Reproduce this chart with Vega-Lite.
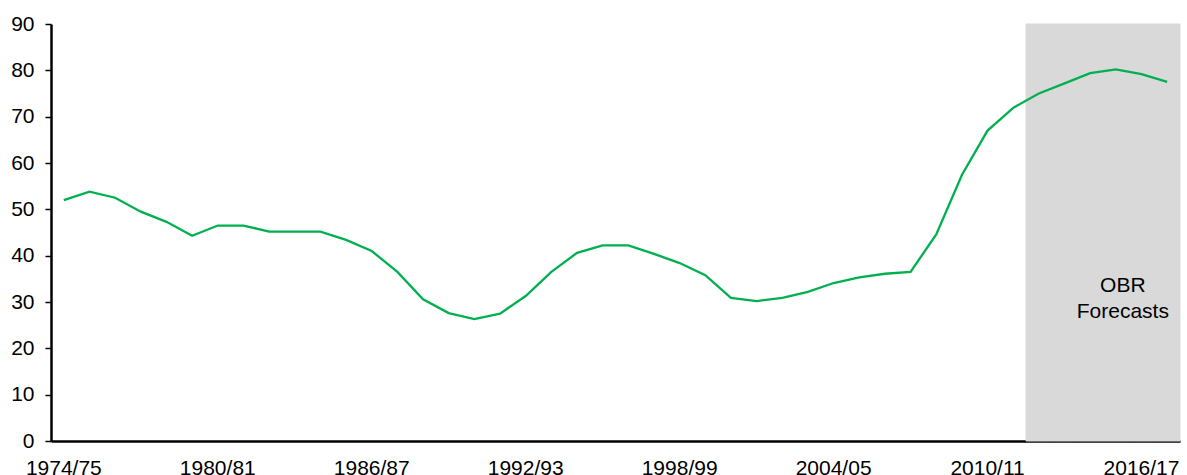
{
  "$schema": "https://vega.github.io/schema/vega-lite/v6.json",
  "width": 1129,
  "height": 417,
  "autosize": {"type": "none"},
  "padding": {"left": 51, "top": 24, "right": 7, "bottom": 34},
  "config": {
    "view": {"stroke": null},
    "font": "Liberation Sans",
    "axis": {"labelFont": "Liberation Sans", "labelColor": "#000000", "grid": false, "title": null, "domainColor": "#000000", "tickColor": "#000000"}
  },
  "datasets": {
    "series": [
      {"year": "1974/75", "value": 52.0},
      {"year": "1975/76", "value": 53.8},
      {"year": "1976/77", "value": 52.5},
      {"year": "1977/78", "value": 49.5},
      {"year": "1978/79", "value": 47.3},
      {"year": "1979/80", "value": 44.3},
      {"year": "1980/81", "value": 46.5},
      {"year": "1981/82", "value": 46.5},
      {"year": "1982/83", "value": 45.2},
      {"year": "1983/84", "value": 45.2},
      {"year": "1984/85", "value": 45.2},
      {"year": "1985/86", "value": 43.4},
      {"year": "1986/87", "value": 41.0},
      {"year": "1987/88", "value": 36.5},
      {"year": "1988/89", "value": 30.6},
      {"year": "1989/90", "value": 27.6},
      {"year": "1990/91", "value": 26.3},
      {"year": "1991/92", "value": 27.5},
      {"year": "1992/93", "value": 31.3},
      {"year": "1993/94", "value": 36.5},
      {"year": "1994/95", "value": 40.6},
      {"year": "1995/96", "value": 42.2},
      {"year": "1996/97", "value": 42.2},
      {"year": "1997/98", "value": 40.4},
      {"year": "1998/99", "value": 38.4},
      {"year": "1999/00", "value": 35.8},
      {"year": "2000/01", "value": 30.9},
      {"year": "2001/02", "value": 30.2},
      {"year": "2002/03", "value": 30.9},
      {"year": "2003/04", "value": 32.2},
      {"year": "2004/05", "value": 34.1},
      {"year": "2005/06", "value": 35.3},
      {"year": "2006/07", "value": 36.1},
      {"year": "2007/08", "value": 36.5},
      {"year": "2008/09", "value": 44.6},
      {"year": "2009/10", "value": 57.4},
      {"year": "2010/11", "value": 67.0},
      {"year": "2011/12", "value": 71.9},
      {"year": "2012/13", "value": 75.0},
      {"year": "2013/14", "value": 77.2},
      {"year": "2014/15", "value": 79.4},
      {"year": "2015/16", "value": 80.2},
      {"year": "2016/17", "value": 79.2},
      {"year": "2017/18", "value": 77.5}
    ],
    "label": [{"text": "OBR"}]
  },
  "encoding": {
    "x": {
      "field": "year",
      "type": "ordinal",
      "sort": null,
      "scale": {
        "type": "band", "paddingInner": 0, "paddingOuter": 0,
        "domain": ["1974/75","1975/76","1976/77","1977/78","1978/79","1979/80","1980/81","1981/82","1982/83","1983/84","1984/85","1985/86","1986/87","1987/88","1988/89","1989/90","1990/91","1991/92","1992/93","1993/94","1994/95","1995/96","1996/97","1997/98","1998/99","1999/00","2000/01","2001/02","2002/03","2003/04","2004/05","2005/06","2006/07","2007/08","2008/09","2009/10","2010/11","2011/12","2012/13","2013/14","2014/15","2015/16","2016/17","2017/18"]
      },
      "axis": {
        "values": ["1974/75", "1980/81", "1986/87", "1992/93", "1998/99", "2004/05", "2010/11", "2016/17"],
        "labelAngle": 0,
        "ticks": false,
        "labelPadding": 16,
        "labelFontSize": 21,
        "domainWidth": 2.5
      }
    }
  },
  "layer": [
    {
      "data": {"name": "series"},
      "transform": [{"filter": {"field": "year", "oneOf": ["2012/13", "2013/14", "2014/15", "2015/16", "2016/17", "2017/18"]}}],
      "mark": {"type": "bar", "color": "#d9d9d9", "stroke": "#d9d9d9", "strokeWidth": 1},
      "encoding": {
        "y": {"datum": 90, "type": "quantitative", "scale": {"domain": [0, 90], "nice": false}}
      }
    },
    {
      "data": {"name": "series"},
      "mark": {"type": "line", "color": "#00b050", "strokeWidth": 2.3},
      "encoding": {
        "y": {
          "field": "value",
          "type": "quantitative",
          "scale": {"domain": [0, 90], "nice": false},
          "axis": {
            "values": [0, 10, 20, 30, 40, 50, 60, 70, 80, 90],
            "tickSize": 6,
            "tickWidth": 1.5,
            "labelPadding": 11,
            "labelFontSize": 21,
            "domainWidth": 2.5
          }
        }
      }
    },
    {
      "data": {"name": "label"},
      "mark": {"type": "text", "text": ["OBR", "Forecasts"], "fontSize": 21, "lineHeight": 26, "align": "center", "baseline": "middle", "dx": 7, "color": "#000000", "font": "Liberation Sans"},
      "encoding": {
        "x": {"datum": "2015/16"},
        "y": {"datum": 33.5, "type": "quantitative"}
      }
    }
  ]
}
